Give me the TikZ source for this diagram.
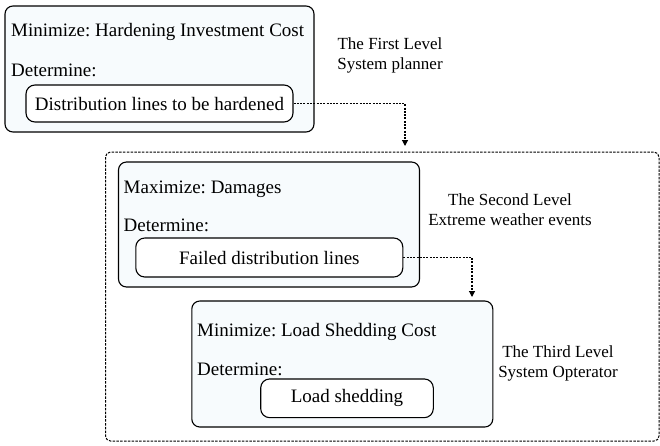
\documentclass[tikz,border=0pt]{standalone}
\usepackage{fontspec}
\setmainfont{Liberation Serif}
\usetikzlibrary{arrows.meta}
\definecolor{paleblue}{RGB}{247,251,253}
\frenchspacing
\begin{document}
\begin{tikzpicture}[x=1pt,y=-1pt,
		levelbox/.style = {draw, line width=1.1pt, rounded corners=8pt, fill=paleblue, inner sep=0pt},
		choicebox/.style = {draw, line width=1.1pt, rounded corners=9pt, fill=white, inner sep=0pt, font=\fontsize{19}{22}\selectfont},
		goal/.style = {anchor=west, inner sep=0pt, font=\fontsize{19}{22}\selectfont},
		tag/.style = {align=center, inner sep=0pt, font=\fontsize{17}{20}\selectfont},
		link/.style = {dash pattern=on 2pt off 1.3pt, line width=1.1pt, -{Triangle[length=6pt,width=6pt]}}]
		\useasboundingbox (0,0) rectangle (660,445);
		% outer frame of the lower levels
		\draw[dash pattern=on 2.5pt off 1.3pt, line width=1pt, rounded corners=5pt] (105.5,152) rectangle (659,441);
		% first level
		\node[levelbox, minimum width=309pt, minimum height=126pt] (lvlone) at (159.5,69) {};
		\node[goal] (minone) at (11,32) {Minimize: Hardening Investment Cost};
		\node[goal] (detone) at (11,70) {Determine:};
		\node[choicebox, minimum width=267pt, minimum height=37pt] (hardened) at (159.5,103.5) {Distribution lines to be hardened};
		\node[tag] (tagone) at (390,55) {The First Level\\System planner};
		% second level
		\node[levelbox, minimum width=301pt, minimum height=125pt] (lvltwo) at (269,224.5) {};
		\node[goal] (maxtwo) at (123.5,189) {Maximize: Damages};
		\node[goal] (dettwo) at (123.5,225) {Determine:};
		\node[choicebox, minimum width=267pt, minimum height=39pt] (failed) at (269.3,257.5) {Failed distribution lines};
		\node[tag] (tagtwo) at (510,210) {The Second Level\\Extreme weather events};
		% third level
		\node[levelbox, minimum width=301pt, minimum height=126pt] (lvlthree) at (342.3,364) {};
		\node[goal] (minthree) at (197,332) {Minimize: Load Shedding Cost};
		\node[goal] (detthree) at (197,369) {Determine:};
		\node[choicebox, minimum width=172.6pt, minimum height=38.7pt] (shedding) at (347,398.3) {Load shedding};
		\node[tag] (tagthree) at (558,363.5) {The Third Level\\System Opterator};
		% links
		\coordinate (topframe) at (405,146);
		\coordinate (topthree) at (472,297);
		\draw[link] (hardened.east) -| (topframe);
		\draw[link] (failed.east) -| (topthree);
\end{tikzpicture}
\end{document}
